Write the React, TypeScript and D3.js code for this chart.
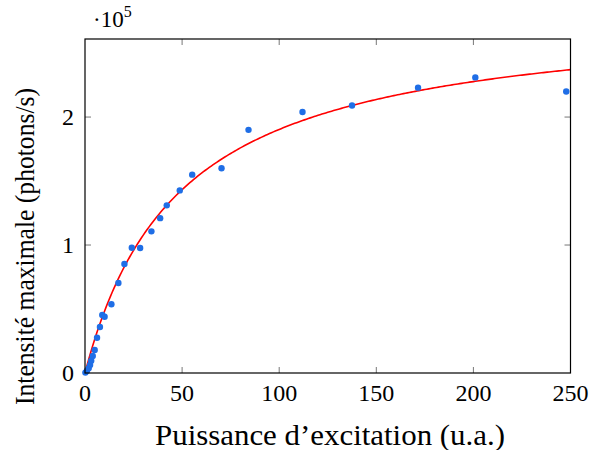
import React from "react";
import * as d3 from "d3";

const power = [0.2, 1, 1.9, 2.6, 3.2, 4, 5, 6.2, 7.7, 8.9, 10.1, 13.6, 17.2, 20.3, 24.1, 28.4, 34.2, 38.7, 42.1, 48.8, 55.2, 70.3, 84.2, 112, 137.5, 171.5, 201, 247.8];
const intensity = [0.003, 0.018, 0.037, 0.063, 0.096, 0.133, 0.18, 0.275, 0.36, 0.453, 0.44, 0.537, 0.703, 0.852, 0.979, 0.977, 1.107, 1.21, 1.31, 1.427, 1.55, 1.6, 1.9, 2.04, 2.09, 2.23, 2.31, 2.2];
const xTicks = [0, 50, 100, 150, 200, 250];
const yTicks = [0, 1, 2];
// saturation fit I = Imax * P / (P + Psat), in units of 1e5
const fitImax = 2.834;
const fitPsat = 48.9;

const W = 590, H = 450;
const left = 85, right = 570.5, top = 39, bottom = 373;
const FONT = "'Liberation Serif', 'DejaVu Serif', serif";

export default function App() {
  const x = d3.scaleLinear().domain([0, 250]).range([left, right]);
  const y = d3.scaleLinear().domain([0, 2.61]).range([bottom, top]);
  const curveX = d3.range(0, 250.01, 1);
  const line = d3.line<number>().x(p => x(p)).y(p => y(fitImax * p / (p + fitPsat)));
  const tl = 6;
  return (
    <svg width={W} height={H} style={{ position: "absolute", left: 0, top: 0, background: "#fff" }} fontFamily={FONT}>
      <defs>
        <clipPath id="clip"><rect x={left} y={top} width={right - left} height={bottom - top} /></clipPath>
      </defs>
      {xTicks.slice(1, -1).map(t => (
        <g key={"xt" + t} stroke="#777" strokeWidth={1}>
          <line x1={x(t)} x2={x(t)} y1={bottom} y2={bottom - tl} />
          <line x1={x(t)} x2={x(t)} y1={top} y2={top + tl} />
        </g>
      ))}
      {yTicks.slice(1).map(t => (
        <g key={"yt" + t} stroke="#777" strokeWidth={1}>
          <line x1={left} x2={left + tl} y1={y(t)} y2={y(t)} />
          <line x1={right} x2={right - tl} y1={y(t)} y2={y(t)} />
        </g>
      ))}
      <path d={line(curveX) || ""} fill="none" stroke="#f00" strokeWidth={1.6} clipPath="url(#clip)" />
      {power.map((p, i) => (
        <circle key={i} cx={x(p)} cy={y(intensity[i])} r={3.2} fill="#1f6ee6" />
      ))}
      <rect x={left} y={top} width={right - left} height={bottom - top} fill="none" stroke="#000" strokeWidth={1.2} />
      {xTicks.map(t => (
        <text key={"xl" + t} x={x(t)} y={bottom + 28} textAnchor="middle" fontSize={24}>{t}</text>
      ))}
      {yTicks.map(t => (
        <text key={"yl" + t} x={left - 11} y={y(t) + 8} textAnchor="end" fontSize={24}>{t}</text>
      ))}
      <text x={93} y={27} fontSize={23}>·10<tspan dy={-10} fontSize={16}>5</tspan></text>
      <text x={330} y={445} textAnchor="middle" fontSize={30} textLength={350} lengthAdjust="spacingAndGlyphs">Puissance d’excitation (u.a.)</text>
      <text transform={`translate(34,246.5) rotate(-90)`} textAnchor="middle" fontSize={27} textLength={317} lengthAdjust="spacingAndGlyphs">Intensité maximale (photons/s)</text>
    </svg>
  );
}
